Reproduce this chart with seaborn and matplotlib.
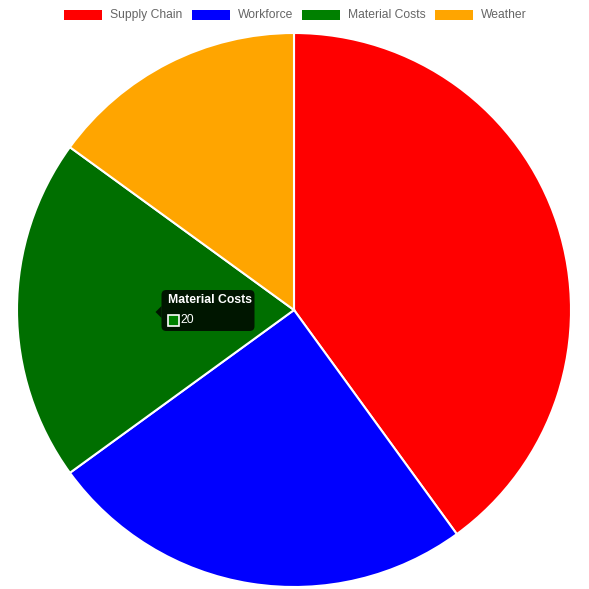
import numpy as np
import seaborn as sns
import matplotlib.pyplot as plt
from matplotlib.patches import Rectangle, FancyBboxPatch, Polygon

# data
labels = ['Supply Chain', 'Workforce', 'Material Costs', 'Weather']
values = [40, 25, 20, 15]
legend_colors = ['#ff0000', '#0000ff', '#008000', '#ffa500']
# the hovered slice is drawn a bit darker
slice_colors = ['#ff0000', '#0000ff', '#006f00', '#ffa500']
hover_idx = 2

sns.set_theme(style='white')
plt.rcParams['font.family'] = ['Liberation Sans', 'DejaVu Sans']

W = H = 589
fig = plt.figure(figsize=(W / 100, H / 100), dpi=100)

def fx(x):
    return x / W

def fy(y):
    return 1 - y / H

cx, cy, r = 294, 310, 277
ax = fig.add_axes([fx(cx - r), fy(cy + r), 2 * r / W, 2 * r / H])
wedges, _ = ax.pie(values, colors=slice_colors, startangle=90, counterclock=False,
                   wedgeprops=dict(edgecolor='white', linewidth=1.5))
ax.set_xlim(-1, 1)
ax.set_ylim(-1, 1)
ax.set_aspect('equal')
ax.axis('off')

# legend across the top
box_x = [64, 192, 302, 435]
for x0, lab, col in zip(box_x, labels, legend_colors):
    fig.patches.append(Rectangle((fx(x0), fy(20)), fx(38), 10 / H, facecolor=col,
                                 edgecolor='none', transform=fig.transFigure))
    fig.text(fx(x0 + 46), fy(15), lab, fontsize=8.7, color='#666666',
             ha='left', va='center')

# tooltip on hovered slice
w = wedges[hover_idx]
mid = np.deg2rad((w.theta1 + w.theta2) / 2)
px = 0.5 * np.cos(mid)
py = 0.5 * np.sin(mid)
tip = ax.transData.transform((px, py))
tx, ty = tip[0], H - tip[1] + 2

bx0, by0, bw, bh = tx + 6, ty - 22, 93, 41
tt = fig.transFigure
fig.patches.append(FancyBboxPatch((fx(bx0), fy(by0 + bh)), bw / W, bh / H,
                                  boxstyle='round,pad=0,rounding_size=0.008',
                                  facecolor='black', alpha=0.8, edgecolor='none',
                                  transform=tt))
fig.patches.append(Polygon([(fx(tx), fy(ty)), (fx(tx + 6), fy(ty - 6)), (fx(tx + 6), fy(ty + 6))],
                           closed=True, facecolor='black', alpha=0.8, edgecolor='none',
                           transform=tt))
fig.text(fx(bx0 + 6), fy(by0 + 10), labels[hover_idx], fontsize=8.8, color='white',
         fontweight='bold', ha='left', va='center')
fig.patches.append(Rectangle((fx(bx0 + 6), fy(by0 + 36)), 11 / W, 11 / H,
                             facecolor=legend_colors[hover_idx], edgecolor='white',
                             linewidth=1.2, transform=tt))
fig.text(fx(bx0 + 19), fy(by0 + 30), str(values[hover_idx]), fontsize=8.8, color='white',
         ha='left', va='center')

fig.savefig('out.png', dpi=100)
